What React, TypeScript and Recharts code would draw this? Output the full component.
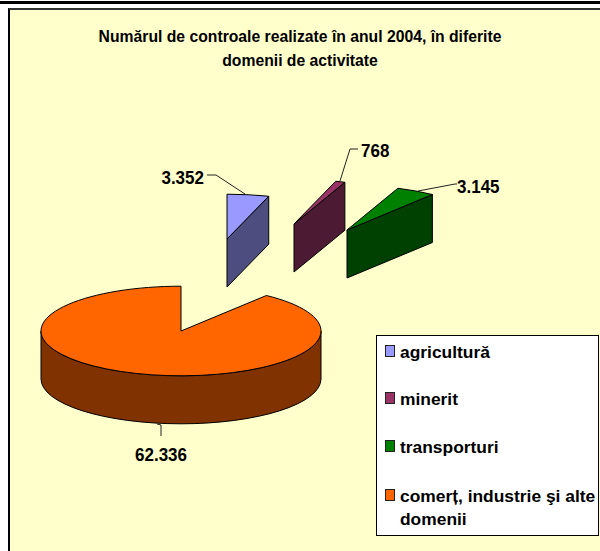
import { Legend, Pie, PieChart } from "recharts";

const categories = [
  "agricultură",
  "minerit",
  "transporturi",
  "comerț, industrie şi alte domenii",
];
const controls = [3352, 768, 3145, 62336];

const topColors = ["#9999FF", "#993366", "#008000", "#FF6600"];
const sideColors = ["#4D4D80", "#4D1A33", "#004000", "#803300"];

// how far each slice is pulled away from the pie centre, in px
const explodeX = [46, 113, 166, 0];
const explodeY = [-92, -107, -101, 0];

// leader line points and label anchor
const leaderLines = [
  "M 245 194 L 216 175 L 207 175",
  "M 340 181 L 350 149 L 358 149",
  "M 418 191 L 455 184 L 457 184",
  "M 157 424 L 161 425 L 161 436",
];
const labelX = [204, 361, 457, 161];
const labelY = [177, 150, 186, 454];
const labelAnchors = ["end", "start", "start", "middle"];

const legendTops = [5, 52, 100, 149];

const SQUASH = 0.32;
const DEPTH = 48;

const chartData = categories.map((name, i) => ({ name, value: controls[i] }));

function formatValue(n: number): string {
  return String(n).replace(/\B(?=(\d{3})+$)/g, ".");
}

function Slice3D(props: any) {
  const { cx, cy, outerRadius, startAngle, endAngle, index } = props;
  const ox = cx + explodeX[index];
  const oy = cy + explodeY[index];
  const rx = outerRadius;
  const ry = outerRadius * SQUASH;
  const pt = (deg: number, drop = 0): [number, number] => {
    const rad = (deg * Math.PI) / 180;
    return [ox + rx * Math.cos(rad), oy - ry * Math.sin(rad) + drop];
  };
  const [sx, sy] = pt(startAngle);
  const [ex, ey] = pt(endAngle);
  const large = Math.abs(startAngle - endAngle) > 180 ? 1 : 0;
  const top = `M ${ox} ${oy} L ${sx} ${sy} A ${rx} ${ry} 0 ${large} 1 ${ex} ${ey} Z`;

  const walls: string[] = [];
  // radial wall at the end of the sweep faces the viewer only on the right side
  const endSin = Math.sin((endAngle * Math.PI) / 180);
  const endCos = Math.cos((endAngle * Math.PI) / 180);
  if (endCos > 0.001) {
    walls.push(
      `M ${ox} ${oy} L ${ex} ${ey} L ${ex} ${ey + DEPTH} L ${ox} ${oy + DEPTH} Z`,
    );
  }
  // rim: the part of the outer arc that lies in the lower half (180..360 deg)
  if (Math.abs(startAngle - endAngle) > 180 && endSin >= -0.001) {
    const [lx, ly] = pt(180);
    const [rx2, ry2] = pt(0);
    walls.push(
      `M ${lx} ${ly} A ${rx} ${ry} 0 0 0 ${rx2} ${ry2} L ${rx2} ${ry2 + DEPTH} A ${rx} ${ry} 0 0 1 ${lx} ${ly + DEPTH} Z`,
    );
  }

  return (
    <g>
      {walls.map((d) => (
        <path key={d} d={d} fill={sideColors[index]} stroke="#000" strokeWidth={1} />
      ))}
      <path d={top} fill={topColors[index]} stroke="#000" strokeWidth={1} />
    </g>
  );
}

function SliceLabel(props: any) {
  const { index } = props;
  return (
    <g>
      <path d={leaderLines[index]} fill="none" stroke="#222" strokeWidth={1} />
      <text
        transform={`translate(${labelX[index]} ${labelY[index] + 7}) scale(0.92 1)`}
        textAnchor={labelAnchors[index] as any}
        fontFamily="Liberation Sans"
        fontWeight="bold"
        fontSize={18.5}
        fill="#000"
      >
        {formatValue(controls[index])}
      </text>
    </g>
  );
}

function LegendBox() {
  return (
    <div
      style={{
        boxSizing: "border-box",
        width: 223,
        height: 201,
        background: "#fff",
        border: "1px solid #000",
        fontFamily: "Liberation Sans",
        fontWeight: "bold",
        fontSize: 17.4,
        lineHeight: "23px",
        color: "#000",
        position: "relative",
      }}
    >
      {categories.map((name, i) => (
        <div
          key={name}
          style={{
            position: "absolute",
            left: 23,
            top: legendTops[i],
            width: 199,
          }}
        >
          <span
            style={{
              position: "absolute",
              left: -15,
              top: 4,
              width: 8,
              height: 10,
              background: topColors[i],
              border: "1.5px solid #222",
            }}
          />
          {name}
        </div>
      ))}
    </div>
  );
}

export default function App() {
  return (
    <div style={{ position: "absolute", left: 0, top: 0, width: 600, height: 551, background: "#fff", overflow: "hidden" }}>
      <div style={{ position: "absolute", left: 0, top: 1, width: 600, height: 3, background: "#000" }} />
      <div
        style={{
          position: "absolute",
          left: 8,
          top: 8,
          width: 592,
          height: 543,
          boxSizing: "border-box",
          background: "#FFFFCC",
          borderLeft: "2px solid #000",
          borderTop: "2px solid #333",
        }}
      />
      <div
        style={{
          position: "absolute",
          left: 0,
          top: 25,
          width: 600,
          textAlign: "center",
          fontFamily: "Liberation Sans",
          fontWeight: "bold",
          fontSize: 17,
          lineHeight: "24px",
          color: "#000",
          transform: "scaleX(0.925)",
        }}
      >
        Numărul de controale realizate în anul 2004, în diferite
        <br />
        domenii de activitate
      </div>
      <div style={{ position: "absolute", left: 0, top: 0 }}>
        <PieChart width={600} height={551} margin={{ top: 0, right: 0, bottom: 0, left: 0 }}>
          <Pie
            data={chartData}
            dataKey="value"
            nameKey="name"
            cx={181}
            cy={331}
            outerRadius={140}
            startAngle={90}
            endAngle={-270}
            paddingAngle={0}
            shape={Slice3D}
            label={SliceLabel}
            labelLine={false}
            isAnimationActive={false}
          />
          <Legend
            content={LegendBox}
            wrapperStyle={{ position: "absolute", left: 376, top: 335, width: 223, height: 201 }}
          />
        </PieChart>
      </div>
    </div>
  );
}
